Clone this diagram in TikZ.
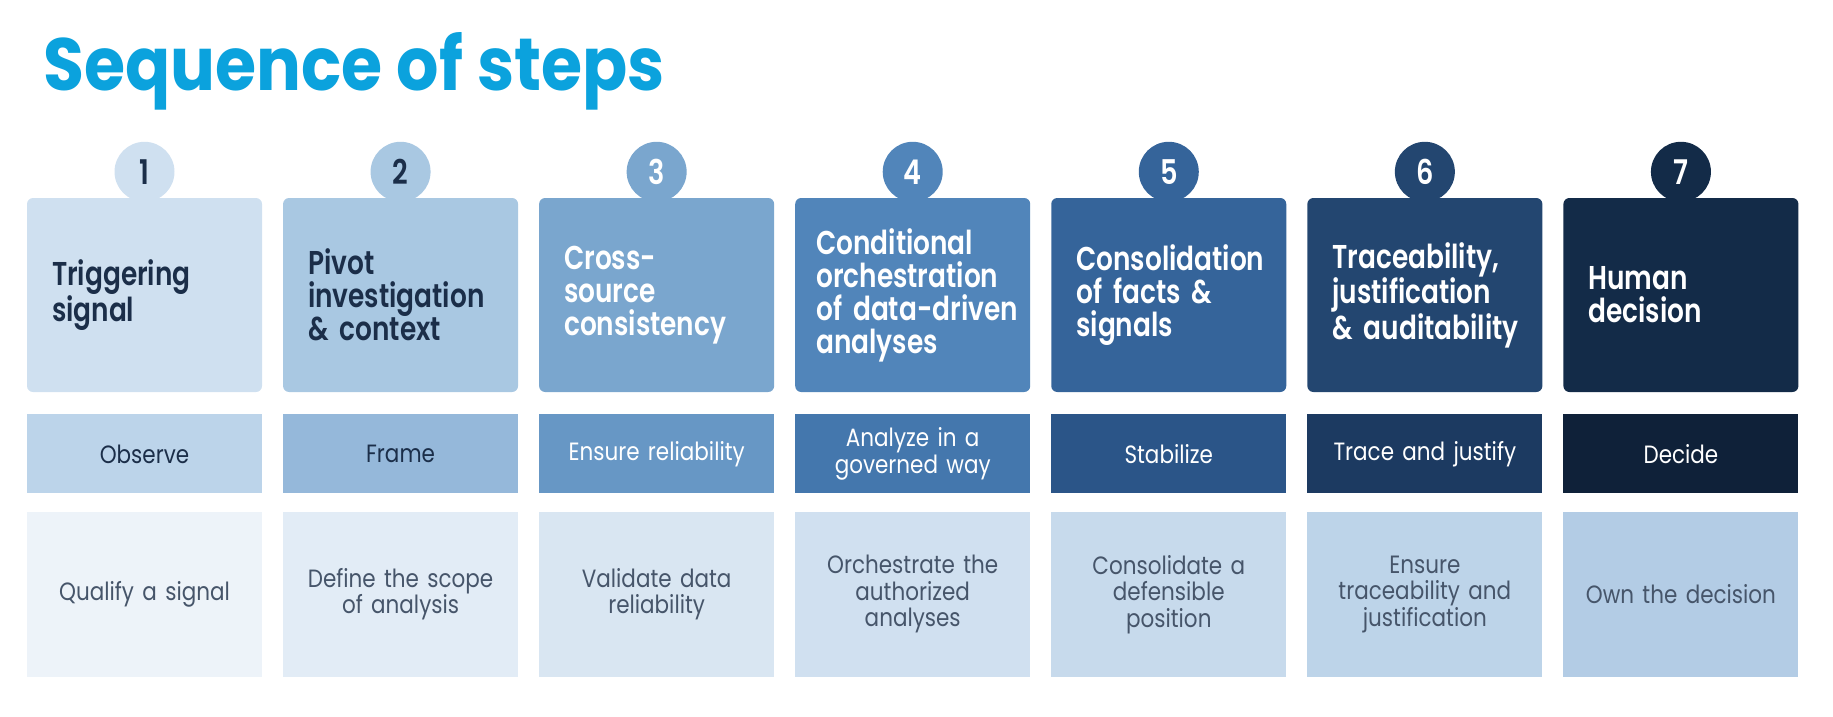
\documentclass[tikz,border=0pt]{standalone}
\usepackage{fontspec}
\setmainfont{Poppins}
\IfFontExistsTF{Poppins SemiBold}
  {\newfontfamily\headfont{Poppins SemiBold}[FakeStretch=0.80]}
  {\newfontfamily\headfont{Poppins}[FakeStretch=0.78,UprightFont=*-Bold]}
\newfontfamily\bodyfont{Poppins}[FakeStretch=0.86]
\newfontfamily\titlefont{Poppins}[FakeStretch=0.90]
\usetikzlibrary{positioning}
\hyphenpenalty=10000
\exhyphenpenalty=10000
\hbadness=10000
\hfuzz=20pt

\definecolor{titleblue}{HTML}{0BA2DD}
\definecolor{ink}{HTML}{1B2E49}
\definecolor{grayink}{HTML}{46556A}
\definecolor{topA}{HTML}{CFE0F0}
\definecolor{topB}{HTML}{A9C8E2}
\definecolor{topC}{HTML}{7AA6CE}
\definecolor{topD}{HTML}{5185BA}
\definecolor{topE}{HTML}{35649A}
\definecolor{topF}{HTML}{234670}
\definecolor{topG}{HTML}{132B48}
\definecolor{midA}{HTML}{BCD4EA}
\definecolor{midB}{HTML}{95B8DA}
\definecolor{midC}{HTML}{6797C5}
\definecolor{midD}{HTML}{4477AD}
\definecolor{midE}{HTML}{2B5588}
\definecolor{midF}{HTML}{1C3A61}
\definecolor{midG}{HTML}{0F2139}
\definecolor{lowA}{HTML}{EDF3F9}
\definecolor{lowB}{HTML}{E2ECF6}
\definecolor{lowC}{HTML}{D9E6F2}
\definecolor{lowD}{HTML}{D0E0F0}
\definecolor{lowE}{HTML}{C7DAEC}
\definecolor{lowF}{HTML}{BDD4E9}
\definecolor{lowG}{HTML}{B3CCE5}

\begin{document}
\begin{tikzpicture}[stepbox/.style={rectangle,rounded corners=6pt,minimum width=235pt,minimum height=194pt,inner xsep=25pt,text width=185pt,align=left,font=\headfont\fontsize{33}{33}\selectfont},
    num/.style={circle,minimum size=60pt,inner sep=0pt,font=\headfont\fontsize{34}{34}\selectfont},
    verb/.style={rectangle,minimum width=235pt,minimum height=79pt,inner sep=0pt,text width=225pt,align=center,font=\bodyfont\fontsize{25}{27}\selectfont},
    goal/.style={rectangle,minimum width=235pt,minimum height=165pt,inner sep=0pt,text width=225pt,align=center,text=grayink,font=\bodyfont\fontsize{25}{26.5}\selectfont}]
        \useasboundingbox (0,0) rectangle (1833pt,-717pt);
        \node[anchor=base west,inner sep=0pt,text=titleblue,font=\titlefont\bfseries\fontsize{74}{74}\selectfont] (title) at (43pt,-90pt) {Sequence of steps};

        \node[stepbox,fill=topA,text=ink] (s1) at (144.5pt,-295pt) {Triggering\\signal};
        \node[stepbox,fill=topB,text=ink] (s2) [right=20.67pt of s1] {Pivot\\investigation\\\&~context};
        \node[stepbox,fill=topC,text=white] (s3) [right=20.67pt of s2] {Cross-\\source\\consistency};
        \node[stepbox,fill=topD,text=white,inner xsep=21pt,text width=193pt] (s4) [right=20.67pt of s3] {Conditional\\orchestration\\of~data-driven\\analyses};
        \node[stepbox,fill=topE,text=white] (s5) [right=20.67pt of s4] {Consolidation\\of~facts~\&\\signals};
        \node[stepbox,fill=topF,text=white] (s6) [right=20.67pt of s5] {Traceability,\\justification\\\&~auditability};
        \node[stepbox,fill=topG,text=white] (s7) [right=20.67pt of s6] {Human\\decision};

        \node[num,fill=topA,text=ink] (n1) at ([yshift=26pt]s1.north) {1};
        \node[num,fill=topB,text=ink] (n2) at ([yshift=26pt]s2.north) {2};
        \node[num,fill=topC,text=white] (n3) at ([yshift=26pt]s3.north) {3};
        \node[num,fill=topD,text=white] (n4) at ([yshift=26pt]s4.north) {4};
        \node[num,fill=topE,text=white] (n5) at ([yshift=26pt]s5.north) {5};
        \node[num,fill=topF,text=white] (n6) at ([yshift=26pt]s6.north) {6};
        \node[num,fill=topG,text=white] (n7) at ([yshift=26pt]s7.north) {7};

        \node[verb,fill=midA,text=ink] (v1) [below=22pt of s1] {Observe};
        \node[verb,fill=midB,text=ink] (v2) [below=22pt of s2] {Frame};
        \node[verb,fill=midC,text=white] (v3) [below=22pt of s3] {Ensure reliability};
        \node[verb,fill=midD,text=white] (v4) [below=22pt of s4] {Analyze in a\\governed way};
        \node[verb,fill=midE,text=white] (v5) [below=22pt of s5] {Stabilize};
        \node[verb,fill=midF,text=white] (v6) [below=22pt of s6] {Trace and justify};
        \node[verb,fill=midG,text=white] (v7) [below=22pt of s7] {Decide};

        \node[goal,fill=lowA] (g1) [below=18pt of v1] {Qualify a signal};
        \node[goal,fill=lowB] (g2) [below=18pt of v2] {Define the scope\\of analysis};
        \node[goal,fill=lowC] (g3) [below=18pt of v3] {Validate data\\reliability};
        \node[goal,fill=lowD] (g4) [below=18pt of v4] {Orchestrate the\\authorized\\analyses};
        \node[goal,fill=lowE] (g5) [below=18pt of v5] {Consolidate a\\defensible\\position};
        \node[goal,fill=lowF] (g6) [below=18pt of v6] {Ensure\\traceability and\\justification};
        \node[goal,fill=lowG] (g7) [below=18pt of v7] {Own the decision};
    \end{tikzpicture}
\end{document}
